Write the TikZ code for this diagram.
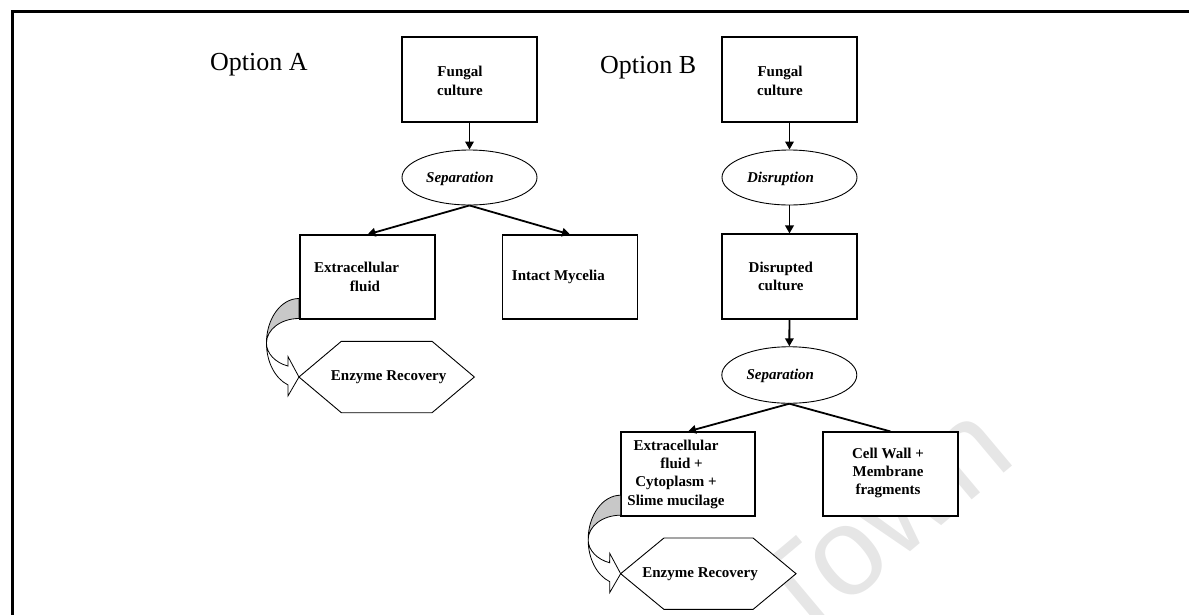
\documentclass[tikz,border=0pt]{standalone}
\usepackage{fontspec}
\setmainfont{Liberation Serif}
\newfontfamily\markfont{Liberation Sans}
\usetikzlibrary{arrows.meta,shapes.geometric,calc}

\definecolor{backgray}{RGB}{200,200,200}
\definecolor{markgray}{RGB}{230,230,230}

\tikzset{
  % curved block arrow: shaded back of the band, white front ending in a head;
  % the pic origin is the tip of the head
  curvy/.pic={
    \filldraw[fill=backgray, line width=0.8pt, line join=round]
      (0,-78.5) arc[start angle=270, end angle=180, x radius=32.5, y radius=44.5]
                arc[start angle=180, end angle=270, x radius=32.5, y radius=24.5] -- cycle;
    \filldraw[fill=white, line width=0.8pt, line join=miter]
      (-32.5,-34) arc[start angle=180, end angle=109.8, x radius=32.5, y radius=24.5]
      -- (-11,-20.5) -- (0,0) -- (-11,19) -- (-11,7.9)
      arc[start angle=109.8, end angle=180, x radius=32.5, y radius=44.5] -- cycle;
  }
}

\begin{document}
\begin{tikzpicture}[x=1pt, y=-1pt,
  boxtxt/.style={font=\fontsize{15}{18.3}\selectfont\bfseries, align=center, inner sep=0pt},
  stepbox/.style={draw, fill=white, line width=1.1pt, minimum width=135pt, minimum height=85pt, inner sep=0pt},
  oval/.style={draw, fill=white, ellipse, line width=0.9pt, minimum width=135pt, minimum height=55pt, inner sep=0pt},
  hexnode/.style={minimum width=175pt, minimum height=71pt, inner sep=0pt},
  hexline/.style={line width=0.9pt, line join=miter, fill=white},
  flow/.style={line width=1.8pt, -{Triangle[length=8pt, width=8.5pt]}},
  plainflow/.style={line width=1.8pt},
  title/.style={font=\fontsize{26}{30}\selectfont, inner sep=0pt},
]
\useasboundingbox (0,0) rectangle (1189,614);
\clip (0,0) rectangle (1189,614);

% faint watermark
\node[rotate=40, text=markgray, font=\markfont\fontsize{125}{125}\selectfont, inner sep=0pt]
  (mark) at (880,522) {Town};

% page frame
\draw[line width=3pt] (12.5,630) -- (12.5,11.5) -- (1200,11.5);

% headings
\node[title, anchor=base west] (opta) at (210,70) {Option A};
\node[title, anchor=base west] (optb) at (600,73) {Option B};

% ---- Option A ----
\node[stepbox, label={[boxtxt, xshift=-9.5pt, yshift=-1.5pt]center:{Fungal\\culture}}]
  (fa) at (469.5,79.5) {};
\node[oval, label={[boxtxt, xshift=-9.5pt, yshift=-1.5pt]center:{\itshape Separation}}]
  (sepa) at (469.5,177.5) {};
\node[stepbox, minimum height=84pt, label={[boxtxt, xshift=-11pt]center:{Extracellular\\\hspace*{17pt}fluid}}]
  (exa) at (367.5,277) {};
\node[stepbox, minimum height=84pt, label={[boxtxt, xshift=-11.6pt]center:{Intact Mycelia}}]
  (inta) at (570,277) {};
\node[hexnode] (era) at (386.65,377) {};
\filldraw[hexline] (era.west) -- ($(era.north west)+(42.4,0)$) -- ($(era.north east)+(-42.3,0)$)
  -- (era.east) -- ($(era.south east)+(-42.3,0)$) -- ($(era.south west)+(42.4,0)$) -- cycle;
\node[boxtxt, xshift=2pt] (eratxt) at (era.center) {Enzyme Recovery};

\draw[flow] (fa) -- (sepa);
\draw[flow] (sepa.south) -- (exa.north);
\draw[flow] (sepa.south) -- (inta.north);
\pic at (era.west) {curvy};

% ---- Option B ----
\node[stepbox, label={[boxtxt, xshift=-9.5pt, yshift=-1.5pt]center:{Fungal\\culture}}]
  (fb) at (789.5,79.5) {};
\node[oval, label={[boxtxt, xshift=-9pt, yshift=-1.5pt]center:{\itshape Disruption}}]
  (disb) at (789.5,177.5) {};
\node[stepbox, label={[boxtxt, xshift=-8.7pt]center:{Disrupted\\culture}}]
  (dcb) at (789.5,276.5) {};
\node[oval, minimum height=56.5pt, label={[boxtxt, xshift=-9pt, yshift=-1pt]center:{\itshape Separation}}]
  (sepb) at (789.3,375) {};
\node[stepbox, minimum width=134pt, minimum height=84pt,
  label={[boxtxt, xshift=-12pt]center:{Extracellular\\\hspace*{11pt}fluid +\\Cytoplasm +\\Slime mucilage}}]
  (exb) at (688,474) {};
\node[stepbox, minimum height=84pt, label={[boxtxt, xshift=-2.5pt, yshift=1pt]center:{Cell Wall +\\Membrane\\fragments}}]
  (cwb) at (890.5,474) {};
\node[hexnode] (erb) at (708.35,573.7) {};
\filldraw[hexline] (erb.west) -- ($(erb.north west)+(43.3,0)$) -- ($(erb.north east)+(-43,0)$)
  -- (erb.east) -- ($(erb.south east)+(-43,0)$) -- ($(erb.south west)+(43.3,0)$) -- cycle;
\node[boxtxt, xshift=-8.3pt] (erbtxt) at (erb.center) {Enzyme Recovery};

\draw[flow] (fb) -- (disb);
\draw[flow] (disb) -- (dcb);
\draw[flow] (dcb) -- (sepb);
\draw[flow] (sepb.south) -- (exb.north);
\draw[plainflow] (sepb.south) -- (cwb.north);
\pic at (erb.west) {curvy};
\end{tikzpicture}
\end{document}
